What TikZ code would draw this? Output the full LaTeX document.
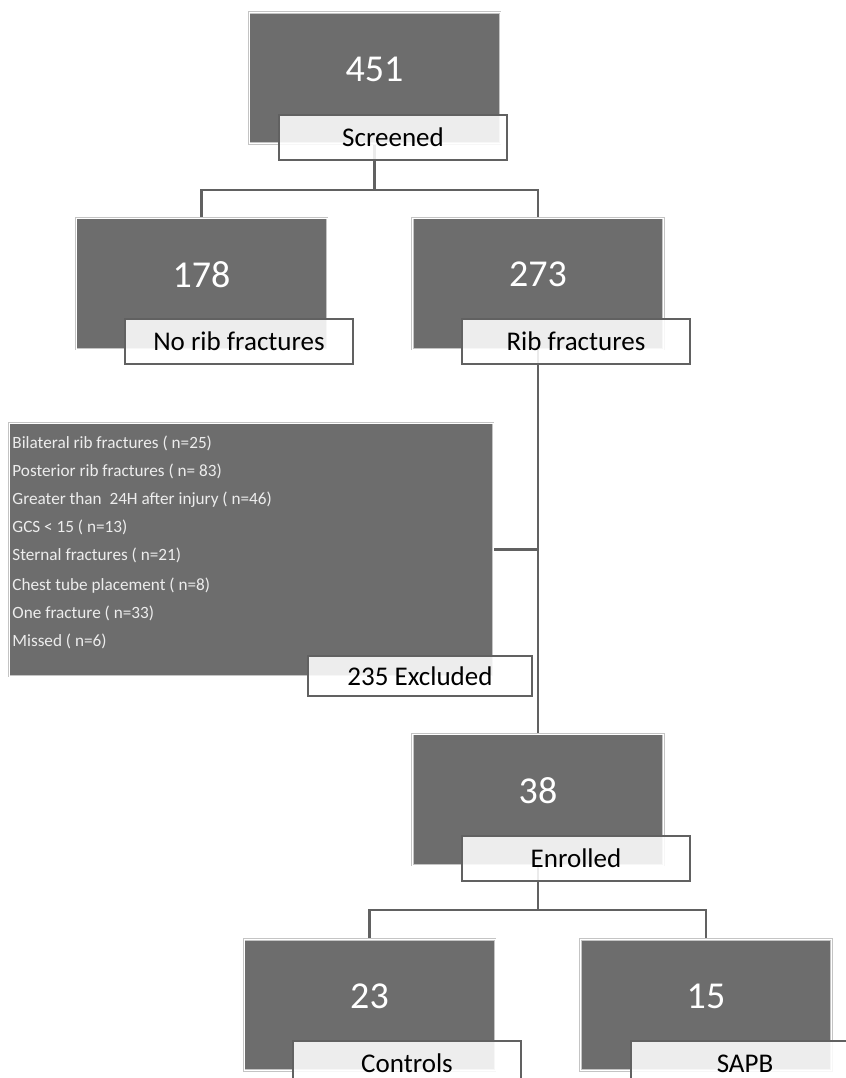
\documentclass[tikz,border=0pt]{standalone}
\usepackage{fontspec}
\setmainfont{Carlito}
\usetikzlibrary{positioning,backgrounds}

\definecolor{boxgray}{HTML}{6D6D6D}
\definecolor{linegray}{HTML}{616161}
\definecolor{rimgray}{HTML}{C4C4C4}
\definecolor{critwhite}{HTML}{EDEDED}

\tikzset{
  countbox/.style={draw=rimgray, double=white, double distance=0.5pt, line width=0.4pt,
    fill=boxgray, minimum width=125.5pt, minimum height=65.5pt, inner sep=0pt},
  count/.style={text=white, inner sep=0pt, font=\fontsize{19}{22}\selectfont},
  tag/.style={draw=linegray, line width=1pt, fill=white, fill opacity=0.88, text opacity=1,
    minimum width=114pt, minimum height=22.5pt, inner sep=0pt, font=\fontsize{13.5}{16}\selectfont},
  crit/.style={text=critwhite, inner sep=0pt, font=\fontsize{8.6}{11}\selectfont},
  link/.style={draw=linegray, line width=1.4pt},
}

\begin{document}
\begin{tikzpicture}[x=0.5pt,y=-0.5pt]
    \useasboundingbox (0,0) rectangle (846,1078);
    % grey count boxes
    \node[countbox] (b451) at (374.5,78) {};
    \node[countbox] (b178) at (201.5,283.5) {};
    \node[countbox] (b273) at (538,283.5) {};
    \node[countbox, minimum width=242pt, minimum height=126.5pt] (bexcl) at (251,549.5) {};
    \node[countbox] (b38) at (538,799.5) {};
    \node[countbox] (b23) at (369.5,1005) {};
    \node[countbox] (b15) at (706,1005) {};
    % split points of the tree
    \coordinate (split1) at (374.5,190);
    \coordinate (split2) at (538,910);
    \begin{pgfonlayer}{background}
        \draw[link] (b451.center) -- (split1) -| (b178.north);
        \draw[link] (split1) -| (b273.north);
        \draw[link] (b273.center) -- (b38.north);
        \draw[link] (bexcl.east) -- (bexcl.east -| b273.center);
        \draw[link] (b38.center) -- (split2) -| (b23.north);
        \draw[link] (split2) -| (b15.north);
    \end{pgfonlayer}
    % counts
    \node[count] (n451) at ([yshift=4.5pt]b451.center) {451};
    \node[count] (n178) at ([yshift=4.5pt]b178.center) {178};
    \node[count] (n273) at ([yshift=4.5pt]b273.center) {273};
    \node[count] (n38) at ([yshift=4.5pt]b38.center) {38};
    \node[count] (n23) at ([yshift=4.5pt]b23.center) {23};
    \node[count] (n15) at ([yshift=4.5pt]b15.center) {15};
    % exclusion reasons
    \foreach \txt [count=\i] in {Bilateral rib fractures ( n=25),
        Posterior rib fractures ( n= 83),
        Greater than~ 24H after injury ( n=46),
        GCS < 15 ( n=13),
        Sternal fractures ( n=21),
        Chest tube placement ( n=8),
        One fracture ( n=33),
        Missed ( n=6)}{%
        \node[crit, anchor=base west] (crit\i) at (12,{448+28*(\i-1)+(\i>5)*2}) {\txt};
    }
    % white tags
    \node[tag] (l451) at (393,137) {Screened};
    \node[tag] (l178) at (239,341.5) {No rib fractures};
    \node[tag] (l273) at (576,341.5) {Rib fractures};
    \node[tag, minimum width=112pt, minimum height=20pt] (lexcl) at (420,676) {235 Excluded};
    \node[tag] (l38) at (576,858.5) {Enrolled};
    \node[tag] (l23) at (407,1063.5) {Controls};
    \node[tag] (l15) at (745,1063.5) {SAPB};
\end{tikzpicture}
\end{document}
